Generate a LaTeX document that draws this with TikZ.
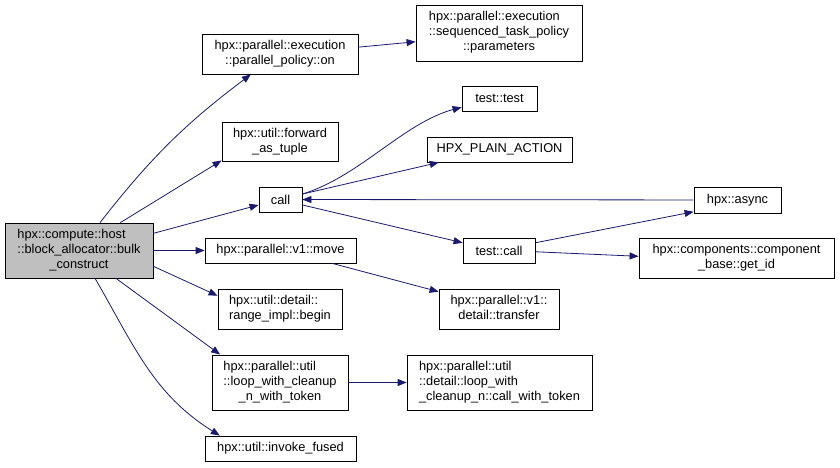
\documentclass[tikz,border=0pt]{standalone}
\usepackage{fontspec}
\setmainfont{Liberation Sans}
\usepackage{xcolor}
\usepackage{tikz}
\usetikzlibrary{arrows.meta}
\definecolor{edgeblue}{HTML}{191970}
\newcommand{\fnbox}[2]{\begin{tabular}{@{}l@{}}#1\\\multicolumn{1}{@{}c@{}}{#2}\end{tabular}}

\begin{document}
\begin{tikzpicture}[x=1pt, y=1pt, >={Triangle[length=9pt,width=7pt]},
    font=\fontsize{12.8}{15}\selectfont,
    fn/.style 2 args={draw, line width=0.8pt, fill=white, inner sep=0pt,
      minimum width=#1pt, minimum height=#2pt},
    callarrow/.style={->, draw=edgeblue, line width=0.8pt}]
  \useasboundingbox (0,0) rectangle (840,467);
  % caller
  \node[fn={148}{55}, fill=black!25] (main) at (79,216.5)
    {\fnbox{hpx::compute::host\\::block\_allocator::bulk}{\_construct}};
  % first column
  \node[fn={156}{40}] (on) at (280,413) {\fnbox{hpx::parallel::execution}{::parallel\_policy::on}};
  \node[fn={116}{39}] (fwd) at (280,325.5) {\fnbox{hpx::util::forward}{\_as\_tuple}};
  \node[fn={43}{25}] (call) at (280.5,267.5) {call};
  \node[fn={151}{25}] (move) at (280.5,216.5) {hpx::parallel::v1::move};
  \node[fn={124}{40}] (begin) at (280,158) {\fnbox{hpx::util::detail::}{range\_impl::begin}};
  \node[fn={136}{55}] (loop) at (280,84.5)
    {\fnbox{hpx::parallel::util\\::loop\_with\_cleanup}{\_n\_with\_token}};
  \node[fn={151}{25}] (inv) at (280.5,18.5) {hpx::util::invoke\_fused};
  % second column
  \node[fn={166}{56}] (params) at (499,434)
    {\fnbox{hpx::parallel::execution\\::sequenced\_task\_policy}{::parameters}};
  \node[fn={75}{25}] (test) at (499.5,368.5) {test::test};
  \node[fn={145}{25}] (hpa) at (499.5,317.5) {HPX\_PLAIN\_ACTION};
  \node[fn={72}{25}] (tcall) at (499,216.5) {test::call};
  \node[fn={120}{40}] (transfer) at (499,158) {\fnbox{hpx::parallel::v1::}{detail::transfer}};
  \node[fn={185}{55}] (cwt) at (499.5,84.5)
    {\fnbox{hpx::parallel::util\\::detail::loop\_with}{\_cleanup\_n::call\_with\_token}};
  % third column
  \node[fn={87}{26}] (async) at (737.5,267) {hpx::async};
  \node[fn={195}{40}] (getid) at (736.5,209) {\fnbox{hpx::components::component}{\_base::get\_id}};
  % calls from the caller
  \draw[callarrow] (main.53) to[out=52,in=217] (on.215);
  \draw[callarrow] (main.34) -- (fwd.198);
  \draw[callarrow] (main.13) -- (call.194);
  \draw[callarrow] (main) -- (move);
  \draw[callarrow] (main.348) -- (begin.168);
  \draw[callarrow] (main.323) -- (loop.155);
  \draw[callarrow] (main.300) to[out=300,in=148] (inv.168);
  % further calls
  \draw[callarrow] (on.5) -- (params.186);
  \draw[callarrow] (call.14) .. controls +(17:60) and +(195:60) .. (test.193);
  \draw[callarrow] (call.14) -- (hpa.192);
  \draw[callarrow] (call.346) -- (tcall.168);
  \draw[callarrow] (async) -- (call);
  \draw[callarrow] (tcall.12) -- (async.195);
  \draw[callarrow] (tcall.358) -- (getid.179);
  \draw[callarrow] (move.346) -- (transfer.164);
  \draw[callarrow] (loop) -- (cwt);
\end{tikzpicture}
\end{document}
